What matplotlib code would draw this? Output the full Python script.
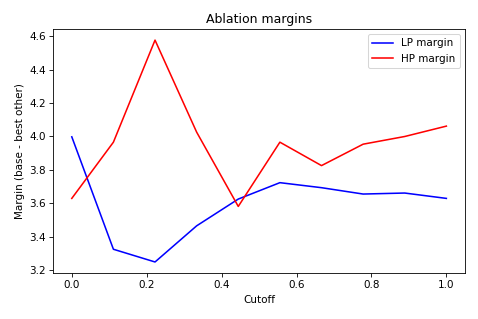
import numpy as np
import matplotlib
matplotlib.use("Agg")
import matplotlib.pyplot as plt

cutoffs = np.linspace(0, 1, 10)
lp_margin = [3.998, 3.326, 3.25, 3.466, 3.626, 3.724, 3.694, 3.656, 3.662, 3.63]
hp_margin = [3.63, 3.966, 4.576, 4.026, 3.582, 3.966, 3.826, 3.954, 4.0, 4.062]

fig, ax = plt.subplots(figsize=(478 / 75, 319 / 75), dpi=75)
fig.subplots_adjust(left=0.111, right=0.973, top=0.909, bottom=0.144)

ax.plot(cutoffs, lp_margin, color='blue', label='LP margin')
ax.plot(cutoffs, hp_margin, color='red', label='HP margin')

ax.set_title("Ablation margins")
ax.set_xlabel("Cutoff")
ax.set_ylabel("Margin (base - best other)")
ax.legend(loc='upper right')

fig.savefig("out.png", dpi=75)
